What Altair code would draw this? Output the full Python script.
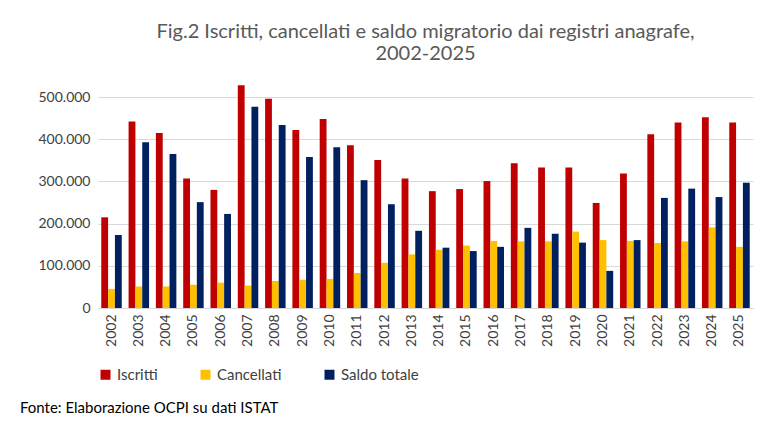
import altair as alt
import pandas as pd

anni = [str(a) for a in range(2002, 2026)]
iscritti = [215, 442, 415, 307, 280, 528, 496, 422, 448, 386, 351, 307, 277, 282, 301, 343,
            333, 333, 249, 319, 412, 440, 452, 440]
cancellati = [45, 51, 51, 55, 60, 53, 64, 67, 69, 83, 107, 127, 138, 148, 159, 158,
              158, 181, 161, 159, 154, 158, 191, 145]
saldo = [173, 393, 365, 251, 223, 477, 434, 358, 381, 303, 246, 183, 143, 135, 145, 190,
         176, 155, 88, 161, 261, 283, 263, 297]
serie = ["Iscritti", "Cancellati", "Saldo totale"]
colori = ["#C00000", "#FFC000", "#002060"]

rows = []
for i, a in enumerate(anni):
    for s, v in zip(serie, [iscritti[i], cancellati[i], saldo[i]]):
        rows.append({"anno": a, "serie": s, "valore": v * 1000})
df = pd.DataFrame(rows)

font = "Lato"
bars = alt.Chart(df).mark_bar().encode(
    x=alt.X("anno:N", title=None, scale=alt.Scale(paddingInner=0.25, paddingOuter=0.12),
            axis=alt.Axis(labelAngle=-90, labelFontSize=14, labelColor="#404040", labelFont=font,
                          domainColor="#d9d9d9", ticks=False, labelPadding=6)),
    xOffset=alt.XOffset("serie:N", sort=serie, scale=alt.Scale(paddingInner=0)),
    y=alt.Y("valore:Q", title=None, scale=alt.Scale(domain=[0, 550000], nice=False),
            axis=alt.Axis(values=[0, 100000, 200000, 300000, 400000, 500000],
                          labelExpr="replace(format(datum.value, ','), /,/g, '.')",
                          labelFontSize=14, labelColor="#404040", labelFont=font,
                          domain=False, ticks=False, gridColor="#d9d9d9", labelPadding=8)),
    color=alt.Color("serie:N", sort=serie, scale=alt.Scale(domain=serie, range=colori),
                    legend=alt.Legend(title=None, orient="bottom", direction="horizontal",
                                      symbolType="square", labelFontSize=15, labelFont=font,
                                      labelColor="#404040", columnPadding=40, offset=20)),
)

fonte = alt.Chart(pd.DataFrame({"t": ["Fonte: Elaborazione OCPI su dati ISTAT"]})).mark_text(
    align="left", baseline="bottom", fontSize=15, font=font, color="#000000"
).encode(text="t:N", x=alt.value(-78), y=alt.value(340))

chart = (bars + fonte).properties(
    width=655, height=232,
    padding={"left": 12, "right": 12, "top": 14, "bottom": 8},
    title=alt.TitleParams(["Fig.2 Iscritti, cancellati e saldo migratorio dai registri anagrafe,",
                           "2002-2025"], font=font, fontSize=20, fontWeight="normal",
                          color="#595959", offset=12),
).configure_view(stroke=None)

chart.save("out.html", embed_options={"renderer": "svg", "actions": False})
